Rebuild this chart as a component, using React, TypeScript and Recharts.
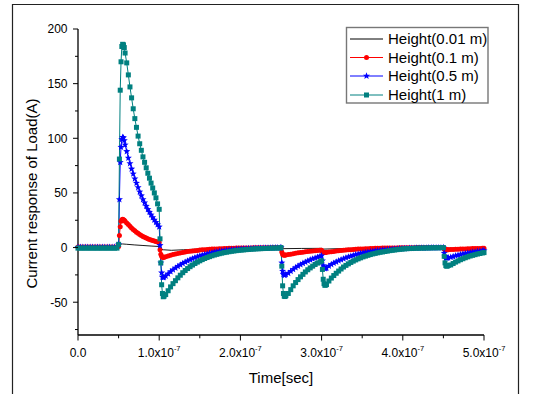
import React from 'react';
import { LineChart, Line, XAxis, YAxis } from 'recharts';

// time in ns (axis shows seconds: 1.0x10^-7 = 100 ns)
const T_NS = [
  0, 3, 6, 9, 12, 15, 18, 21, 24, 27, 30, 33, 36, 39, 42, 45, 48,
  50, 51, 52, 53, 54, 55, 56, 57, 58,
  60, 62, 64, 66, 68, 70, 72, 74, 76, 78, 80, 82, 84, 86, 88, 90, 92, 94, 96, 98, 100,
  101, 102, 103, 104, 105, 106,
  108, 111, 114, 117, 120, 123, 126, 129, 132, 135, 138, 141, 144, 147, 150, 153, 156, 159, 162, 165,
  168, 171, 174, 177, 180, 183, 186, 189, 192, 195, 198, 201, 204, 207, 210, 213, 216, 219, 222, 225,
  228, 231, 234, 237, 240, 243, 246, 249,
  250, 251, 252, 253, 254, 255, 256,
  259, 262, 265, 268, 271, 274, 277, 280, 283, 286, 289, 292, 295, 298, 300,
  301, 302, 303, 304, 305, 306,
  309, 312, 315, 318, 321, 324, 327, 330, 333, 336, 339, 342, 345, 348, 351, 354, 357, 360, 363, 366,
  369, 372, 375, 378, 381, 384, 387, 390, 393, 396, 399, 402, 405, 408, 411, 414, 417, 420, 423, 426,
  429, 432, 435, 438, 441, 444, 447,
  450, 451, 452, 453, 454, 455, 456,
  459, 462, 465, 468, 471, 474, 477, 480, 483, 486, 489, 492, 495, 498, 500,
];

const RED_01 = [
  0.5, 0.5, 0.5, 0.5, 0.5, 0.5, 0.5, 0.5, 0.5, 0.5, 0.5, 0.5, 0.5, 0.5, 0.5, 0.5, 0.5,
  1, 11, 19, 24, 25.5, 26, 25.5, 25, 24,
  22.5, 21, 19.5, 18, 16.6, 15.3, 14.1, 13, 12, 11.1, 10.2, 9.4, 8.7, 8.1, 7.5, 6.9, 6.4, 5.9, 5.5, 5, 4.6,
  -2, -6, -8, -8.8, -9, -8.8,
  -8.3, -7.6, -7, -6.4, -5.9, -5.4, -4.9, -4.5, -4.1, -3.7, -3.4, -3.1, -2.8, -2.6, -2.3, -2.1, -1.9, -1.7, -1.6, -1.4,
  -1.3, -1.2, -1.1, -1, -0.9, -0.8, -0.7, -0.6, -0.6, -0.5, -0.5, -0.4, -0.4, -0.3, -0.3, -0.3, -0.2, -0.2, -0.2, -0.2,
  -0.1, -0.1, -0.1, -0.1, 0, 0, 0, 0,
  0, -4, -6, -6.8, -7, -6.9, -6.7,
  -6.4, -6, -5.6, -5.2, -4.8, -4.5, -4.2, -3.9, -3.6, -3.4, -3.1, -2.9, -2.7, -2.5, -2.4,
  -3.5, -4.2, -4.5, -4.5, -4.4, -4.3,
  -4.1, -3.8, -3.5, -3.2, -2.9, -2.7, -2.5, -2.3, -2.1, -1.9, -1.7, -1.6, -1.4, -1.3, -1.2, -1.1, -1, -0.9, -0.8, -0.7,
  -0.7, -0.6, -0.5, -0.5, -0.4, -0.4, -0.3, -0.3, -0.3, -0.2, -0.2, -0.2, -0.1, -0.1, -0.1, -0.1, 0, 0, 0, 0,
  0, 0, 0, 0, 0, 0, 0,
  0, -1.2, -1.8, -2, -2, -2, -1.9,
  -1.8, -1.7, -1.6, -1.5, -1.4, -1.3, -1.2, -1.1, -1, -0.95, -0.9, -0.8, -0.75, -0.7, -0.65,
];

const BLUE_05 = [
  0.3, 0.3, 0.3, 0.3, 0.3, 0.3, 0.3, 0.3, 0.3, 0.3, 0.3, 0.3, 0.3, 0.3, 0.3, 0.3, 0.3,
  3, 44, 78, 92, 99, 101, 100.5, 98, 94,
  88, 82, 77, 72, 67.5, 63, 59, 55, 51, 47.5, 44, 41, 38, 35, 32.5, 30, 27.5, 25.3, 23.2, 21, 19,
  2, -14, -23, -27, -27.5, -27,
  -26, -24, -22, -20.3, -18.7, -17.2, -15.8, -14.5, -13.3, -12.2, -11.1, -10.1, -9.2, -8.4, -7.6, -6.9, -6.3, -5.7, -5.2, -4.7,
  -4.2, -3.8, -3.4, -3.1, -2.8, -2.5, -2.2, -2, -1.8, -1.6, -1.4, -1.2, -1.1, -1, -0.9, -0.8, -0.7, -0.6, -0.5, -0.5,
  -0.4, -0.4, -0.3, -0.3, -0.2, -0.2, -0.1, -0.1,
  0, -14, -21.5, -24.5, -25.3, -25, -24.5,
  -23.5, -21.6, -19.9, -18.3, -16.9, -15.6, -14.4, -13.3, -12.2, -11.2, -10.3, -9.5, -8.7, -8, -7.5,
  -12, -16.5, -18.5, -19.2, -19, -18.7,
  -16.8, -15.4, -14.2, -13.1, -12, -11.1, -10.2, -9.3, -8.5, -7.8, -7.1, -6.4, -5.9, -5.3, -4.8, -4.4, -4, -3.6, -3.3, -2.9,
  -2.7, -2.4, -2.2, -2, -1.8, -1.5, -1.4, -1.3, -1.1, -1, -0.9, -0.8, -0.7, -0.6, -0.6, -0.5, -0.4, -0.4, -0.3, -0.3,
  -0.3, -0.2, -0.2, -0.2, -0.1, -0.1, -0.1,
  0, -5, -8, -9.3, -9.6, -9.4, -9.2,
  -8.8, -8.2, -7.5, -6.9, -6.4, -5.8, -5.4, -4.9, -4.5, -4.1, -3.8, -3.4, -3.2, -2.9, -2.7,
];

const TEAL_1 = [
  -0.5, -0.5, -0.5, -0.5, -0.5, -0.5, -0.5, -0.5, -0.5, -0.5, -0.5, -0.5, -0.5, -0.5, -0.5, -0.5, -0.5,
  3, 81, 144, 170, 184, 186, 185.5, 183, 178,
  169, 158, 147, 137, 127, 118, 110, 102, 95, 89, 83, 78, 73, 68, 63.5, 59, 54.5, 50, 45.5, 40, 35,
  8, -14, -34, -42, -45, -44.5,
  -43, -39.5, -36, -33, -30.3, -27.7, -25.3, -23, -21, -19.2, -17.5, -16, -14.6, -13.3, -12.1, -11, -10, -9.1, -8.3, -7.5,
  -6.8, -6.2, -5.6, -5.1, -4.6, -4.2, -3.8, -3.4, -3.1, -2.8, -2.5, -2.3, -2.1, -1.9, -1.7, -1.5, -1.4, -1.2, -1.1, -1,
  -0.9, -0.8, -0.7, -0.6, -0.5, -0.5, -0.4, -0.4,
  0, -17, -35, -42, -44.5, -44.8, -44,
  -42, -38.5, -35, -32, -29.3, -26.8, -24.5, -22.3, -20.3, -18.6, -17, -15.5, -14.2, -13, -12.1,
  -20, -29, -33, -34.5, -34.3, -33.8,
  -30.6, -27.9, -25.6, -23.5, -21.5, -19.6, -17.8, -16.3, -14.9, -13.6, -12.4, -11.3, -10.3, -9.4, -8.5, -7.8, -7.1, -6.4, -5.8, -5.3,
  -4.8, -4.3, -4, -3.6, -3.2, -2.8, -2.5, -2.2, -1.9, -1.6, -1.4, -1.2, -1, -0.9, -0.8, -0.7, -0.6, -0.5, -0.5, -0.4,
  -0.4, -0.3, -0.3, -0.2, -0.2, -0.2, -0.1,
  0, -8, -14, -16.5, -17, -16.8, -16.4,
  -15.9, -14.6, -13.3, -12.2, -11.1, -10.2, -9.3, -8.5, -7.7, -7.1, -6.5, -5.9, -5.4, -4.9, -4.6,
];

const BLACK_T = [0, 50, 51, 52, 55, 60, 70, 80, 90, 100, 101, 105, 115, 130, 150, 175, 200, 250, 252, 275, 300, 302, 330, 360, 400, 450, 452, 475, 500];
const BLACK_V = [0, 0, 2, 3, 3.3, 3, 2.4, 1.9, 1.4, 1, -1, -2, -2.5, -2, -1.3, -0.6, -0.2, 0, -1, -0.8, -0.7, -1.4, -0.8, -0.4, 0, 0, -0.5, -0.4, -0.3];

const X_TICKS = [0, 50, 100, 150, 200, 250, 300, 350, 400, 450, 500];
const Y_TICKS = [-75, -50, -25, 0, 25, 50, 75, 100, 125, 150, 175, 200];

const SERIES_NAMES = ['Height(0.01 m)', 'Height(0.1 m)', 'Height(0.5 m)', 'Height(1 m)'];
const SERIES_COLORS = ['#000000', '#ff0000', '#0000ff', '#008080'];
const SERIES_MARKERS = ['none', 'circle', 'star', 'square'];

const FONT = '"Liberation Sans", Arial, Helvetica, sans-serif';

const toRows = (ts: number[], vs: number[]) =>
  ts.map((t, i) => ({ t, v: vs[i] })).filter((r) => r.v !== undefined);

const blackRows = toRows(BLACK_T, BLACK_V);
const redRows = toRows(T_NS, RED_01);
const blueRows = toRows(T_NS, BLUE_05);
const tealRows = toRows(T_NS, TEAL_1);

function starPath(cx: number, cy: number, R: number, r: number) {
  let d = '';
  for (let i = 0; i < 10; i++) {
    const a = -Math.PI / 2 + (i * Math.PI) / 5;
    const rad = i % 2 === 0 ? R : r;
    d += (i === 0 ? 'M' : 'L') + (cx + rad * Math.cos(a)).toFixed(2) + ',' + (cy + rad * Math.sin(a)).toFixed(2);
  }
  return d + 'Z';
}

function MarkerShape({ kind, cx, cy, color }: { kind: string; cx: number; cy: number; color: string }) {
  if (kind === 'circle') return <circle cx={cx} cy={cy} r={2.5} fill={color} />;
  if (kind === 'star') return <path d={starPath(cx, cy, 3.7, 1.6)} fill={color} />;
  if (kind === 'square') return <rect x={cx - 2.5} y={cy - 2.5} width={5} height={5} fill={color} />;
  return null;
}

const makeDot = (kind: string, color: string) => (p: any) => {
  if (p.cx == null || p.cy == null) return <g key={`e-${p.index}`} />;
  return (
    <g key={`${kind}-${p.index}`}>
      <MarkerShape kind={kind} cx={p.cx} cy={p.cy} color={color} />
    </g>
  );
};

function XTick(props: any) {
  const { x, y, payload } = props;
  const v = payload.value as number;
  const major = v % 100 === 0;
  return (
    <g>
      <line x1={x} x2={x} y1={y} y2={y + (major ? 5.5 : 3.3)} stroke="#000" strokeWidth={1} />
      {major && (
        <text x={x} y={y + 22} textAnchor="middle" fontSize={12} fontFamily={FONT} fill="#000">
          {v === 0 ? (
            '0.0'
          ) : (
            <>
              <tspan>{(v / 100).toFixed(1)}x10</tspan>
              <tspan dy={-6} fontSize={7.5}>-7</tspan>
            </>
          )}
        </text>
      )}
    </g>
  );
}

function YTick(props: any) {
  const { x, y, payload } = props;
  const v = payload.value as number;
  const major = v % 50 === 0;
  return (
    <g>
      <line x1={x - (major ? 5 : 3)} x2={x} y1={y} y2={y} stroke="#000" strokeWidth={1} />
      {major && (
        <text x={x - 10.5} y={y + 4.3} textAnchor="end" fontSize={12} fontFamily={FONT} fill="#000">
          {v}
        </text>
      )}
    </g>
  );
}

export default function App() {
  const legendRowsY = [39, 57.5, 76, 95];
  return (
    <div style={{ position: 'absolute', left: 0, top: 0, width: 534, height: 394, background: '#fff' }}>
      <LineChart width={534} height={394} margin={{ top: 29, right: 50, bottom: 29, left: 20 }}>
        <XAxis
          dataKey="t"
          type="number"
          domain={[0, 500]}
          ticks={X_TICKS}
          interval={0}
          tickSize={0}
          tickMargin={0}
          height={30}
          tick={<XTick />}
          axisLine={{ stroke: '#000', strokeWidth: 1.3 }}
          allowDuplicatedCategory={false}
        />
        <YAxis
          type="number"
          domain={[-80, 200]}
          ticks={Y_TICKS}
          interval={0}
          tickSize={0}
          tickMargin={0}
          width={58}
          tick={<YTick />}
          axisLine={{ stroke: '#000', strokeWidth: 1.3 }}
          allowDataOverflow
        />
        <Line data={blackRows} dataKey="v" type="linear" stroke={SERIES_COLORS[0]} strokeWidth={0.9} dot={false} isAnimationActive={false} />
        <Line data={redRows} dataKey="v" type="linear" stroke={SERIES_COLORS[1]} strokeWidth={1} dot={makeDot(SERIES_MARKERS[1], SERIES_COLORS[1])} isAnimationActive={false} />
        <Line data={blueRows} dataKey="v" type="linear" stroke={SERIES_COLORS[2]} strokeWidth={1} dot={makeDot(SERIES_MARKERS[2], SERIES_COLORS[2])} isAnimationActive={false} />
        <Line data={tealRows} dataKey="v" type="linear" stroke={SERIES_COLORS[3]} strokeWidth={1} dot={makeDot(SERIES_MARKERS[3], SERIES_COLORS[3])} isAnimationActive={false} />
      </LineChart>
      <svg width={534} height={394} style={{ position: 'absolute', left: 0, top: 0, pointerEvents: 'none' }}>
        <polyline points="12.5,394 12.5,4.5 518.5,4.5 518.5,394" fill="none" stroke="#222" strokeWidth={1.2} />
        <text
          x={36.5}
          y={193.5}
          transform="rotate(-90 36.5 193.5)"
          textAnchor="middle"
          fontSize={15}
          fontFamily={FONT}
          fill="#000"
        >
          Current response of Load(A)
        </text>
        <text x={281} y={383} textAnchor="middle" fontSize={15} fontFamily={FONT} fill="#000">
          Time[sec]
        </text>
        <rect x={346.5} y={27.5} width={141.5} height={75.5} fill="#fff" stroke="#777" strokeWidth={1.4} />
        {SERIES_NAMES.map((name, i) => (
          <g key={name}>
            <line x1={350} x2={383} y1={legendRowsY[i]} y2={legendRowsY[i]} stroke={SERIES_COLORS[i]} strokeWidth={1} />
            <MarkerShape kind={SERIES_MARKERS[i]} cx={366.5} cy={legendRowsY[i]} color={SERIES_COLORS[i]} />
            <text x={388} y={legendRowsY[i] + 5.3} fontSize={15} fontFamily={FONT} fill="#000">
              {name}
            </text>
          </g>
        ))}
      </svg>
    </div>
  );
}
